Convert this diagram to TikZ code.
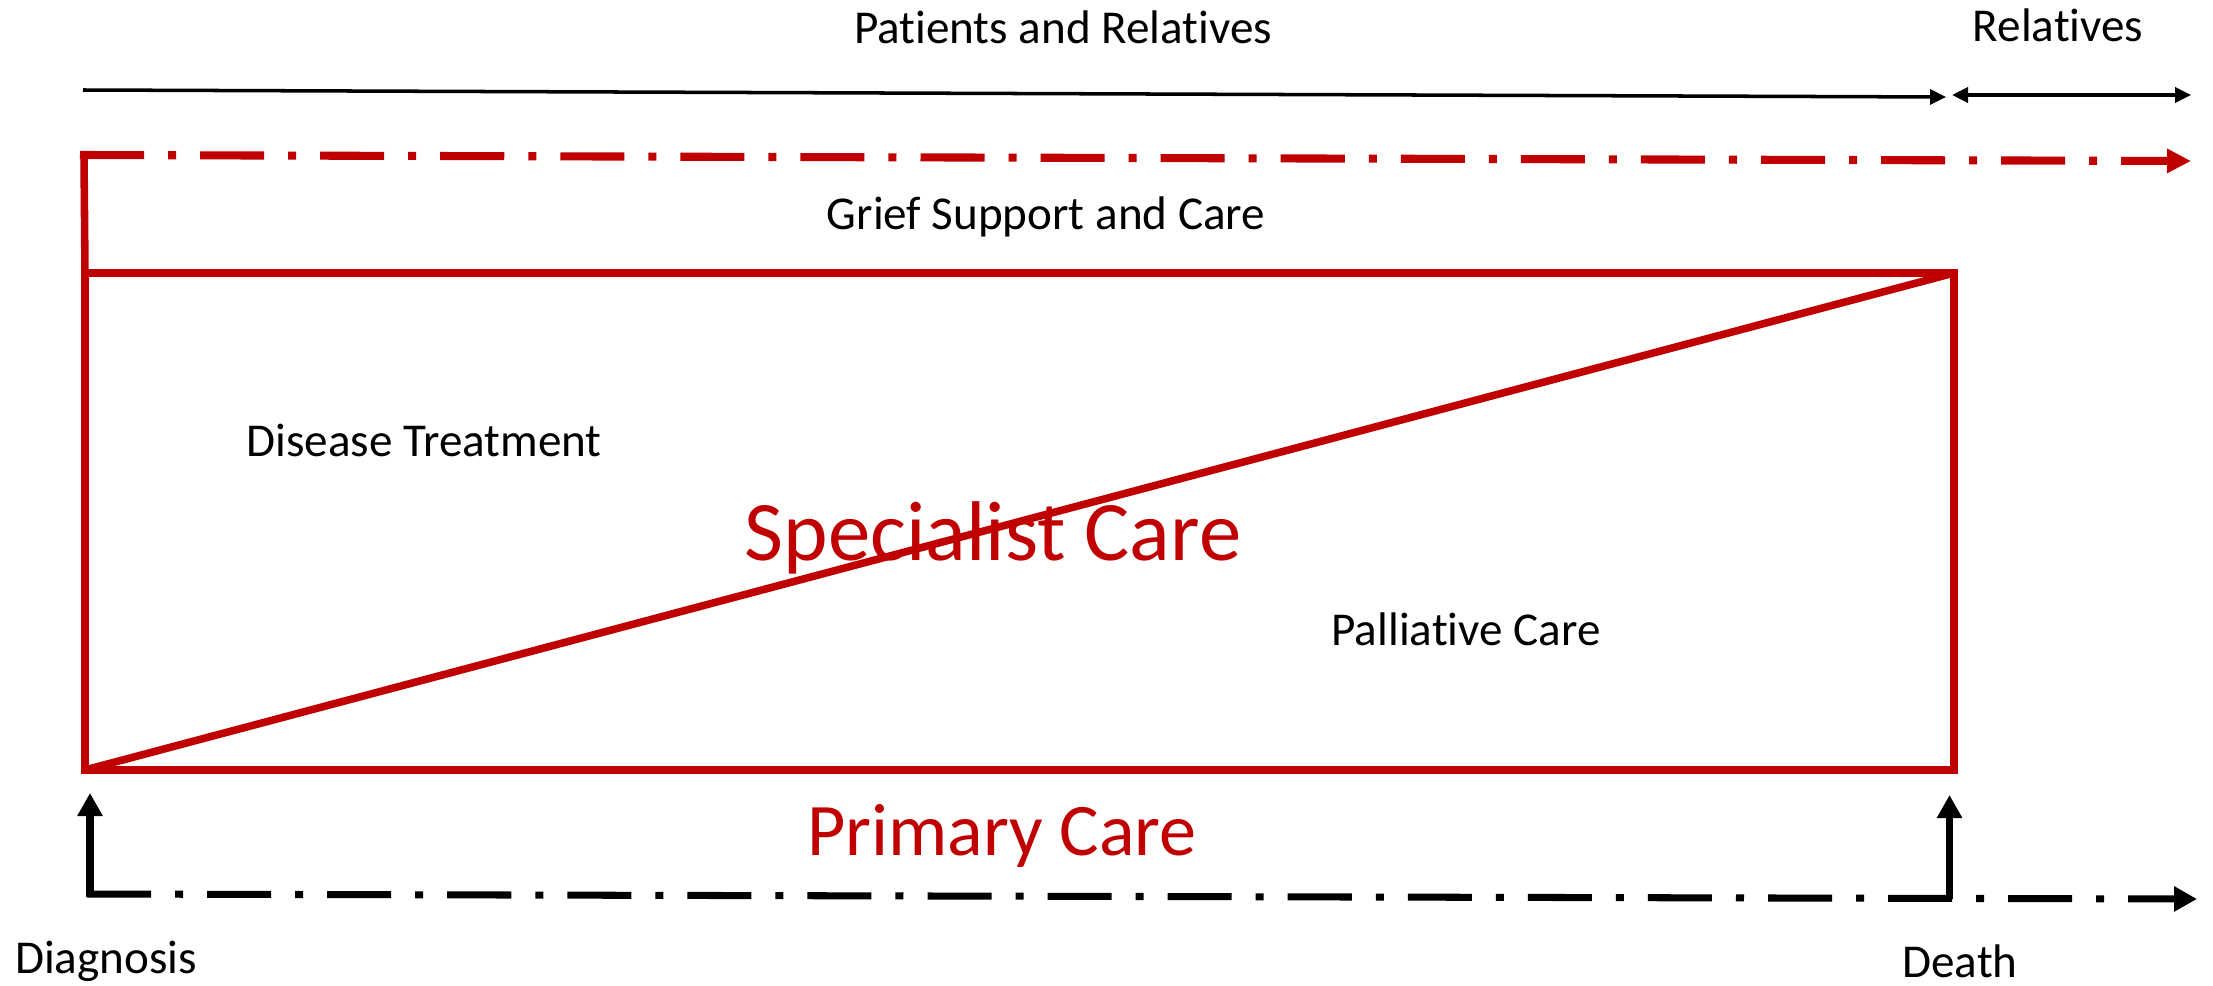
\documentclass[tikz,border=0pt]{standalone}
\usepackage{fontspec}
\setmainfont[RawFeature={-liga;-clig;-calt;-dlig}]{Carlito}
\usetikzlibrary{arrows.meta}
\definecolor{dred}{HTML}{C00000}
\newcommand{\tI}{t\kern0pt i}
\begin{document}
\begin{tikzpicture}[x=0.01cm,y=-0.01cm,
  lbl/.style={anchor=base,inner sep=0pt,font=\fontsize{13.4}{16}\selectfont},
  biglbl/.style={anchor=base,inner sep=0pt,text=dred},
  dashdotpat/.style={dash pattern=on 0.64cm off 0.24cm on 0.08cm off 0.24cm},
  thinarrow/.style={line width=1pt,-{Triangle[length=0.16cm,width=0.15cm]}},
  thickarrow/.style={line width=2pt,-{Triangle[length=0.23cm,width=0.24cm]}},
  redline/.style={draw=dred,line width=2.15pt},
]
\useasboundingbox (0,0) rectangle (2213,985);
% coordinates
\coordinate (tl0) at (83,90);
\coordinate (tl1) at (1946,97);
\coordinate (rl0) at (1952,95);
\coordinate (rl1) at (2191,95);
\coordinate (gstart) at (84,155);
\coordinate (gend) at (2191,161);
\coordinate (boxTL) at (85,273);
\coordinate (boxTR) at (1954,273);
\coordinate (boxBR) at (1954,770);
\coordinate (boxBL) at (85,770);
\coordinate (bstart) at (87,894);
\coordinate (bend) at (2197,899);
\coordinate (dgA) at (90,897);
\coordinate (dgB) at (90,793);
\coordinate (dtA) at (1949.5,899);
\coordinate (dtB) at (1949.5,795);

% top timeline arrows
\draw[thinarrow] (tl0) -- (tl1);
\draw[line width=1pt,{Triangle[length=0.16cm,width=0.15cm]}-{Triangle[length=0.16cm,width=0.15cm]}] (rl0) -- (rl1);

% grief support dash-dot arrow
\draw[redline] (gstart) -- (boxTL);
\draw[draw=dred,line width=2.3pt,dashdotpat,-{Triangle[length=0.24cm,width=0.23cm]}] ([xshift=-0.04cm]gstart) -- (gend);

% main box and diagonal
\draw[redline,line join=miter] (boxTL) -- (boxTR) -- (boxBR) -- (boxBL) -- cycle;
\draw[redline] (boxBL) -- (boxTR);

% bottom timeline
\draw[line width=2pt,dashdotpat,-{Triangle[length=0.23cm,width=0.24cm]}] (bstart) -- (bend);
\draw[thickarrow] (dgA) -- (dgB);
\draw[thickarrow] (dtA) -- (dtB);

% labels
\node[lbl] (pr) at (1063,44) {Pa\tI ents and Rela\tI ves};
\node[lbl] (rel) at (2058,42) {Rela\tI ves};
\node[lbl] (grief) at (1046,229) {Grief Support and Care};
\node[lbl] (dis) at (424,456) {Disease Treatment};
\node[lbl] (pal) at (1466,645) {Pallia\tI ve Care};
\node[biglbl,font=\fontsize{24.1}{28}\selectfont] (spec) at (993,560) {Specialist Care};
\node[biglbl,font=\fontsize{21.1}{25}\selectfont] (prim) at (1002,855) {Primary Care};
\node[lbl] (diag) at (106,973) {Diagnosis};
\node[lbl] (death) at (1960,977) {Death};
\end{tikzpicture}
\end{document}
